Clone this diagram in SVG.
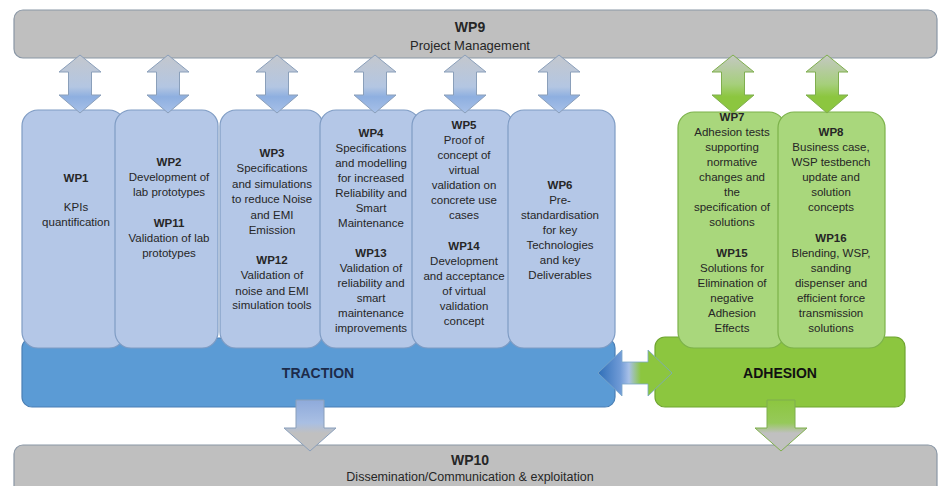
<svg xmlns="http://www.w3.org/2000/svg" width="940" height="486" viewBox="0 0 940 486">
<defs>
<style>
text{font-family:"Liberation Sans",Arial,sans-serif;text-anchor:middle;fill:#262626}
.t{font-size:11.5px}
.b{font-size:11.5px;font-weight:bold}
.bar{fill:#bfbfbf;stroke:#8a97a6;stroke-width:1.2}
.col{fill:#b4c7e7;stroke:#7f9cc4;stroke-width:1.2}
.gcol{fill:#a9d77c;stroke:#7cb24a;stroke-width:1.2}
.arr{stroke:#8a9fba;stroke-width:1}
.garr{stroke:#7fae4e;stroke-width:1}
</style>
<linearGradient id="gb" x1="0" y1="0" x2="0" y2="1">
<stop offset="0" stop-color="#c3c7cd"/>
<stop offset="0.55" stop-color="#b3c6e2"/>
<stop offset="0.72" stop-color="#8eafe0"/>
<stop offset="1" stop-color="#a7c0e8"/>
</linearGradient>
<linearGradient id="gg" x1="0" y1="0" x2="0" y2="1">
<stop offset="0" stop-color="#c4c8c2"/>
<stop offset="0.5" stop-color="#a6cf7c"/>
<stop offset="0.72" stop-color="#8cc63f"/>
<stop offset="1" stop-color="#8cc63f"/>
</linearGradient>
<linearGradient id="db" x1="0" y1="0" x2="0" y2="1">
<stop offset="0" stop-color="#8eaadb"/>
<stop offset="0.45" stop-color="#a9bfe3"/>
<stop offset="0.65" stop-color="#c0c0c0"/>
<stop offset="1" stop-color="#c0c0c0"/>
</linearGradient>
<linearGradient id="dg" x1="0" y1="0" x2="0" y2="1">
<stop offset="0" stop-color="#8cc63f"/>
<stop offset="0.45" stop-color="#96c95a"/>
<stop offset="0.65" stop-color="#c0c0c0"/>
<stop offset="1" stop-color="#c0c0c0"/>
</linearGradient>
<linearGradient id="hz" x1="0" y1="0" x2="1" y2="0">
<stop offset="0" stop-color="#2f6fb8"/>
<stop offset="0.3" stop-color="#6f9ad6"/>
<stop offset="0.42" stop-color="#a8c0e8"/>
<stop offset="0.58" stop-color="#8cc63f"/>
<stop offset="1" stop-color="#8cc63f"/>
</linearGradient>
<path id="dv" d="M0,55 L21,72 L11.5,72 L11.5,95 L21,95 L0,113 L-21,95 L-11.5,95 L-11.5,72 L-21,72 Z"/>
<path id="dn" d="M-14,400 L14,400 L14,428 L26,428 L0,451 L-26,428 L-14,428 Z"/>
</defs>

<g id="wp9">
<rect class="bar" x="14" y="10" width="923" height="48" rx="9"/>
<text x="470" y="32" style="font-size:14px;font-weight:bold">WP9</text>
<text x="470" y="50" style="font-size:13px">Project Management</text>
</g>

<g id="wp10">
<rect class="bar" x="14" y="445" width="923" height="60" rx="9"/>
<text x="470" y="465" style="font-size:14px;font-weight:bold">WP10</text>
<text x="470" y="481" style="font-size:12.5px">Dissemination/Communication &amp; exploitation</text>
</g>

<g id="traction">
<rect x="22" y="338" width="593" height="69" rx="10" fill="#5b9bd5" stroke="#4a7fb5" stroke-width="1.2"/>
<text x="318" y="378" style="font-size:14px;font-weight:bold;fill:#1d2b4a">TRACTION</text>
</g>

<g id="adhesion">
<rect x="655" y="337" width="250" height="70" rx="10" fill="#8cc63f" stroke="#6fa530" stroke-width="1.2"/>
<text x="780" y="378" style="font-size:14px;font-weight:bold;fill:#111">ADHESION</text>
</g>

<g id="wp1">
<rect class="col" x="22" y="110" width="103" height="238" rx="16"/>
<text class="b" x="76" y="182">WP1</text>
<text class="t" x="76" y="211">KPIs</text>
<text class="t" x="76" y="226">quantification</text>
</g>

<g id="wp2">
<rect class="col" x="115" y="110" width="103" height="238" rx="16"/>
<text class="b" x="169" y="166">WP2</text>
<text class="t" x="169" y="181">Development of</text>
<text class="t" x="169" y="196">lab prototypes</text>
<text class="b" x="169" y="227">WP11</text>
<text class="t" x="169" y="242">Validation of lab</text>
<text class="t" x="169" y="257">prototypes</text>
</g>

<g id="wp3">
<rect class="col" x="220" y="110" width="103" height="238" rx="16"/>
<text class="b" x="272" y="157">WP3</text>
<text class="t" x="272" y="172">Specifications</text>
<text class="t" x="272" y="188">and simulations</text>
<text class="t" x="272" y="203">to reduce Noise</text>
<text class="t" x="272" y="219">and EMI</text>
<text class="t" x="272" y="234">Emission</text>
<text class="b" x="272" y="264">WP12</text>
<text class="t" x="272" y="279">Validation of</text>
<text class="t" x="272" y="295">noise and EMI</text>
<text class="t" x="272" y="309">simulation tools</text>
</g>

<g id="wp4">
<rect class="col" x="320" y="110" width="100" height="238" rx="16"/>
<text class="b" x="371" y="137">WP4</text>
<text class="t" x="371" y="152">Specifications</text>
<text class="t" x="371" y="167">and modelling</text>
<text class="t" x="371" y="182">for increased</text>
<text class="t" x="371" y="197">Reliability and</text>
<text class="t" x="371" y="212">Smart</text>
<text class="t" x="371" y="227">Maintenance</text>
<text class="b" x="371" y="257">WP13</text>
<text class="t" x="371" y="272">Validation of</text>
<text class="t" x="371" y="287">reliability and</text>
<text class="t" x="371" y="302">smart</text>
<text class="t" x="371" y="317">maintenance</text>
<text class="t" x="371" y="332">improvements</text>
</g>

<g id="wp5">
<rect class="col" x="412" y="110" width="101" height="238" rx="16"/>
<text class="b" x="464" y="129">WP5</text>
<text class="t" x="464" y="144">Proof of</text>
<text class="t" x="464" y="159">concept of</text>
<text class="t" x="464" y="174">virtual</text>
<text class="t" x="464" y="189">validation on</text>
<text class="t" x="464" y="204">concrete use</text>
<text class="t" x="464" y="219">cases</text>
<text class="b" x="464" y="250">WP14</text>
<text class="t" x="464" y="265">Development</text>
<text class="t" x="464" y="280">and acceptance</text>
<text class="t" x="464" y="295">of virtual</text>
<text class="t" x="464" y="310">validation</text>
<text class="t" x="464" y="325">concept</text>
</g>

<g id="wp6">
<rect class="col" x="508" y="110" width="107" height="238" rx="16"/>
<text class="b" x="560" y="189">WP6</text>
<text class="t" x="560" y="204">Pre-</text>
<text class="t" x="560" y="219">standardisation</text>
<text class="t" x="560" y="234">for key</text>
<text class="t" x="560" y="249">Technologies</text>
<text class="t" x="560" y="264">and key</text>
<text class="t" x="560" y="279">Deliverables</text>
</g>

<g id="wp7">
<rect class="gcol" x="678" y="112" width="107" height="236" rx="16"/>
<text class="b" x="732" y="121">WP7</text>
<text class="t" x="732" y="136">Adhesion tests</text>
<text class="t" x="732" y="151">supporting</text>
<text class="t" x="732" y="166">normative</text>
<text class="t" x="732" y="181">changes and</text>
<text class="t" x="732" y="196">the</text>
<text class="t" x="732" y="211">specification of</text>
<text class="t" x="732" y="226">solutions</text>
<text class="b" x="732" y="257">WP15</text>
<text class="t" x="732" y="272">Solutions for</text>
<text class="t" x="732" y="287">Elimination of</text>
<text class="t" x="732" y="302">negative</text>
<text class="t" x="732" y="317">Adhesion</text>
<text class="t" x="732" y="332">Effects</text>
</g>

<g id="wp8">
<rect class="gcol" x="778" y="112" width="107" height="236" rx="16"/>
<text class="b" x="831" y="136">WP8</text>
<text class="t" x="831" y="151">Business case,</text>
<text class="t" x="831" y="166">WSP testbench</text>
<text class="t" x="831" y="181">update and</text>
<text class="t" x="831" y="196">solution</text>
<text class="t" x="831" y="211">concepts</text>
<text class="b" x="831" y="242">WP16</text>
<text class="t" x="831" y="257">Blending, WSP,</text>
<text class="t" x="831" y="272">sanding</text>
<text class="t" x="831" y="287">dispenser and</text>
<text class="t" x="831" y="302">efficient force</text>
<text class="t" x="831" y="317">transmission</text>
<text class="t" x="831" y="332">solutions</text>
</g>

<g id="connectors">
<use href="#dv" transform="translate(80,0)" class="arr" fill="url(#gb)"/>
<use href="#dv" transform="translate(168,0)" class="arr" fill="url(#gb)"/>
<use href="#dv" transform="translate(277,0)" class="arr" fill="url(#gb)"/>
<use href="#dv" transform="translate(375,0)" class="arr" fill="url(#gb)"/>
<use href="#dv" transform="translate(465,0)" class="arr" fill="url(#gb)"/>
<use href="#dv" transform="translate(559,0)" class="arr" fill="url(#gb)"/>
<use href="#dv" transform="translate(733,0)" class="garr" fill="url(#gg)"/>
<use href="#dv" transform="translate(827,0)" class="garr" fill="url(#gg)"/>
<use href="#dn" transform="translate(310,0)" class="arr" fill="url(#db)"/>
<use href="#dn" transform="translate(781,0)" class="garr" fill="url(#dg)"/>
<path d="M598,373 L622,350 L622,362 L648,362 L648,350 L672,373 L648,396 L648,384 L622,384 L622,396 Z" fill="url(#hz)" stroke="#7aa6c8" stroke-width="0.8"/>
</g>
</svg>
